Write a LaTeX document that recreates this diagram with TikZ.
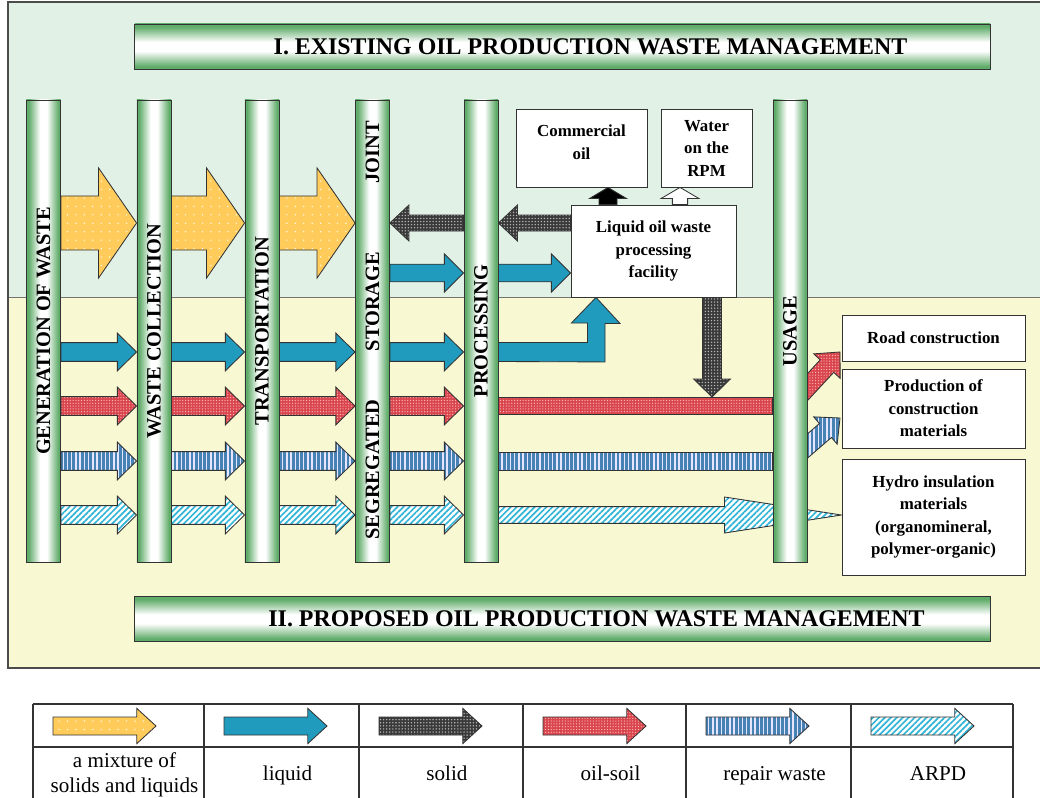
\documentclass[tikz,border=0pt]{standalone}
\usepackage{fontspec}
\setmainfont{Liberation Serif}
\usepackage{tikz}
\usetikzlibrary{calc,patterns.meta}

\definecolor{topbg}{RGB}{225,241,229}
\definecolor{lowbg}{RGB}{248,248,211}
\definecolor{colgreen}{RGB}{96,172,106}
\definecolor{mixcol}{RGB}{255,204,92}
\definecolor{liqcol}{RGB}{32,155,190}
\definecolor{solcol}{RGB}{58,58,58}
\definecolor{oilcol}{RGB}{217,70,78}
\definecolor{repcol}{RGB}{70,130,180}
\definecolor{arpdcol}{RGB}{48,181,214}

\pgfdeclarehorizontalshading{barshade}{100bp}{color(0bp)=(colgreen); color(28bp)=(colgreen);
  color(45bp)=(white); color(55bp)=(white); color(72bp)=(colgreen); color(100bp)=(colgreen)}

\pgfdeclarelayer{bg}
\pgfdeclarelayer{flow}
\pgfsetlayers{bg,flow,main}

\newcommand\wastearrow[6]{%
  \coordinate (fa) at (#2);
  \coordinate (fb) at (#3);
  \coordinate (fh) at ($(fb)!#6!(fa)$);
  \path[#1] ($(fa)!#4!90:(fb)$) -- ($(fh)!#4!90:(fb)$) -- ($(fh)!#5!90:(fb)$)
    -- (fb) -- ($(fh)!#5!-90:(fb)$) -- ($(fh)!#4!-90:(fb)$)
    -- ($(fa)!#4!-90:(fb)$) -- cycle;}

\begin{document}
\begin{tikzpicture}
  [x=0.025cm,y=-0.025cm,
   outl/.style={draw=black!80,line width=0.6pt},
   mixture/.style={outl,preaction={fill=mixcol},pattern={Dots[distance=6pt,radius=0.5pt]},pattern color=white},
   liquid/.style={outl,fill=liqcol},
   solidw/.style={outl,preaction={fill=solcol},pattern={Dots[distance=2.2pt,radius=0.55pt]},pattern color=gray!55},
   oilsoil/.style={outl,preaction={fill=oilcol},pattern={Dots[distance=2pt,radius=0.45pt]},pattern color=red!25!white},
   repair/.style={outl,preaction={fill=repcol},pattern={Lines[angle=90,distance=3pt,line width=1pt]},pattern color=blue!10!white},
   arpd/.style={outl,preaction={fill=white},pattern={Lines[angle=45,distance=3pt,line width=1.2pt]},pattern color=arpdcol},
   blackout/.style={outl,fill=black},
   whiteout/.style={outl,fill=white},
   stage/.style={outl,shade,shading=barshade,
     minimum width=0.85cm,minimum height=11.55cm,inner sep=0pt,font=\bfseries\fontsize{14.5}{15}\selectfont},
   stagetext/.style={rotate=90,inner sep=0pt,font=\bfseries\fontsize{14.5}{15}\selectfont},
   titlebar/.style={outl,shade,shading=barshade,shading angle=90,
     minimum width=21.375cm,minimum height=1.125cm,font=\bfseries\fontsize{17}{20}\selectfont},
   outcome/.style={outl,fill=white,align=center,inner sep=1pt,font=\bfseries\fontsize{12}{16}\selectfont},
   legtext/.style={align=center,inner sep=0pt,font=\fontsize{15}{18}\selectfont}]
  \useasboundingbox (0,0) rectangle (1040,797);

  \begin{pgfonlayer}{bg}
    \fill[topbg] (8,2) rectangle (1045,297);
    \fill[lowbg] (8,297) rectangle (1045,668);
    \draw[black!55,line width=0.6pt] (8,297) -- (1045,297);
    \draw[black!70,line width=1pt] (1045,2) -- (8,2) -- (8,668) -- (1045,668);
  \end{pgfonlayer}

  \node[titlebar] (exist) at (562.5,46.5) {\hspace*{1.4cm}I. EXISTING OIL PRODUCTION WASTE MANAGEMENT};
  \node[titlebar] (propose) at (562.5,619) {\hspace*{1.7cm}II. PROPOSED OIL PRODUCTION WASTE MANAGEMENT};

  \node[stage] (gen)   at (43.5,331)  {\rotatebox{90}{GENERATION OF WASTE}};
  \node[stage] (coll)  at (154,331)   {\rotatebox{90}{WASTE COLLECTION}};
  \node[stage] (trans) at (262,331)   {\rotatebox{90}{TRANSPORTATION}};
  \node[stage] (stor)  at (372.5,331) {};
  \node[stage] (proc)  at (481,331)   {\rotatebox{90}{PROCESSING}};
  \node[stage] (usage) at (790,331)   {\rotatebox{90}{USAGE}};
  \node[stagetext] (joint)   at ($(stor.north)+(0,53)$)  {JOINT};
  \node[stagetext] (storage) at ($(stor.north)+(0,202)$) {STORAGE};
  \node[stagetext] (segr)    at ($(stor.north)+(0,370)$) {SEGREGATED};

  \node[outcome,minimum width=3.275cm,minimum height=1.95cm] (comm) at (581.5,148) {Commercial\\oil\\[-7.5pt]};
  \node[outcome,minimum width=2.275cm,minimum height=1.95cm] (water) at (706.5,148) {Water\\on the\\RPM};
  \node[outcome,minimum width=4.125cm,minimum height=2.3cm] (fac) at (653.5,251) {Liquid oil waste\\processing\\facility};
  \node[outcome,minimum width=4.575cm,minimum height=1.15cm] (road) at (933.5,338) {Road construction};
  \node[outcome,minimum width=4.575cm,minimum height=1.975cm] (prod) at (933.5,408.5) {Production of\\construction\\materials};
  \node[outcome,minimum width=4.575cm,minimum height=2.9cm] (hydro) at (933.5,517) {Hydro insulation\\materials\\(organomineral,\\polymer-organic)};

  \coordinate (rMix)   at (0,223);
  \coordinate (rUp)    at (0,273);
  \coordinate (rLiq)   at (0,352);
  \coordinate (rOil)   at (0,406);
  \coordinate (rRep)   at (0,461);
  \coordinate (rArpd)  at (0,515);
  \coordinate (oilx)   at (608,0);
  \coordinate (rpmx)   at (680,0);
  \coordinate (dropx)  at (712,0);
  \coordinate (bendx)  at (596,0);
  \coordinate (dropend) at (712,397);
  \coordinate (toRoad) at (840,352);
  \coordinate (toProd) at (840,418);

  \begin{pgfonlayer}{flow}
    \foreach \from/\to in {gen/coll,coll/trans,trans/stor}
      \wastearrow{mixture}{\from.east |- rMix}{\to.west |- rMix}{.675cm}{1.375cm}{.95cm};
    \foreach \row/\kind in {rLiq/liquid,rOil/oilsoil,rRep/repair,rArpd/arpd}
      \foreach \from/\to in {gen/coll,coll/trans,trans/stor,stor/proc}
        \wastearrow{\kind}{\from.east |- \row}{\to.west |- \row}{.235cm}{.47cm}{.48cm};

    \wastearrow{solidw}{fac.west |- rMix}{proc.east |- rMix}{.2cm}{.45cm}{.475cm};
    \wastearrow{solidw}{proc.west |- rMix}{stor.east |- rMix}{.2cm}{.45cm}{.475cm};
    \wastearrow{liquid}{stor.east |- rUp}{proc.west |- rUp}{.22cm}{.48cm}{.48cm};
    \wastearrow{liquid}{proc.east |- rUp}{fac.west |- rUp}{.22cm}{.48cm}{.48cm};
    \wastearrow{blackout}{fac.north -| oilx}{comm.south -| oilx}{.225cm}{.46cm}{.275cm};
    \wastearrow{whiteout}{fac.north -| rpmx}{water.south -| rpmx}{.19cm}{.47cm}{.275cm};

    \path[liquid] ($(proc.east |- rLiq)+(0,-9.5)$) -- ++(89,0) -- ++(0,-19.5) -- ++(-16,0)
      -- (fac.south -| bendx) -- ++(24,26) -- ++(-15,0) -- ++(0,38.5)
      -- ($(proc.east |- rLiq)+(0,9.5)$) -- cycle;
    \path[oilsoil] ($(proc.east |- rOil)+(0,-8.5)$) rectangle ($(usage.west |- rOil)+(0,8.5)$);
    \path[repair] ($(proc.east |- rRep)+(0,-9)$) rectangle ($(usage.west |- rRep)+(0,9)$);
    \wastearrow{solidw}{fac.south -| dropx}{dropend}{.235cm}{.46cm}{.45cm};
    \wastearrow{arpd}{proc.east |- rArpd}{hydro.west |- rArpd}{.21cm}{.45cm}{2.925cm};
    \wastearrow{oilsoil}{usage.center |- rOil}{toRoad}{.23cm}{.45cm}{.48cm};
    \wastearrow{repair}{usage.center |- rRep}{toProd}{.23cm}{.45cm}{.48cm};
  \end{pgfonlayer}

  \foreach \x in {33,204,359,523,686,851,1013}
    \draw[black!80,line width=0.8pt] (\x,704) -- (\x,800);
  \draw[black!80,line width=0.8pt] (33,704) -- (1013,704) (33,747) -- (1013,747);
  \foreach \x/\nx/\kind/\txt in {33/204/mixture/{a mixture of\strut\\solids and liquids\strut},
      204/359/liquid/liquid\strut,359/523/solidw/solid\strut,523/686/oilsoil/oil-soil\strut,
      686/851/repair/repair waste\strut,851/1013/arpd/ARPD\strut} {
    \wastearrow{\kind}{\x+20,726}{\x+123,726}{.225cm}{.44cm}{.48cm};
    \node[legtext] (leg\x) at ({(\x+\nx)/2+6},775) {\txt};
  }
\end{tikzpicture}
\end{document}
